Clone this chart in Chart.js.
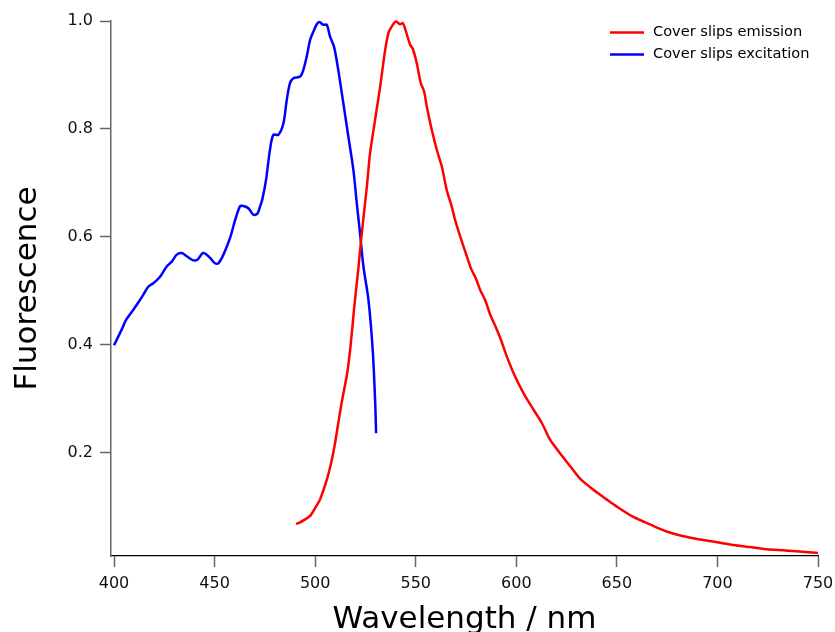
<!DOCTYPE html>
<html>
<head>
<meta charset="utf-8">
<script src="https://cdn.jsdelivr.net/npm/chart.js@4.4.1/dist/chart.umd.min.js"></script>
<style>
  html, body { margin: 0; padding: 0; background: #fff; }
  #wrap { width: 835px; height: 632px; }
</style>
</head>
<body>
<div id="wrap"><canvas id="c" width="835" height="632"></canvas></div>
<script>
// ---- Data ----
const excitationWavelength = [400.0,402.1,403.8,406.0,409.6,412.9,414.6,417.1,419.5,422.9,426.2,428.7,431.2,433.7,436.2,438.5,440.3,441.9,444.1,446.1,448.2,450.2,451.9,454.4,457.7,460.2,462.7,464.3,466.8,469.3,471.3,472.6,473.7,475.6,477.6,479.2,481.7,484.2,485.9,487.5,489.2,492.5,494.1,495.8,497.5,499.1,500.8,502.1,504.1,505.8,507.4,509.4,511.5,514.0,516.5,519.0,520.7,522.3,524.0,526.5,528.6,529.8,530.3];
const excitationValues = [0.399,0.415,0.428,0.446,0.465,0.483,0.493,0.508,0.514,0.526,0.545,0.554,0.567,0.570,0.564,0.558,0.556,0.559,0.570,0.567,0.559,0.551,0.551,0.567,0.598,0.631,0.657,0.657,0.653,0.641,0.643,0.656,0.669,0.706,0.763,0.789,0.789,0.810,0.854,0.885,0.894,0.897,0.909,0.934,0.965,0.980,0.994,0.998,0.993,0.993,0.971,0.952,0.909,0.848,0.786,0.724,0.662,0.607,0.545,0.483,0.391,0.298,0.236];

const emissionWavelength = [490.5,492.0,494.0,497.5,500.4,502.4,505.8,508.3,509.9,511.5,513.2,515.8,517.4,519.8,521.5,523.2,525.7,527.3,529.8,532.3,534.8,536.4,538.1,540.2,542.2,543.6,544.7,547.2,548.5,550.5,552.5,554.2,555.5,558.0,560.5,563.0,565.4,567.9,569.6,572.1,575.4,577.4,580.0,582.0,584.5,587.0,589.5,591.9,595.3,599.4,603.5,608.5,612.7,616.8,620.1,623.4,627.6,631.7,636.7,641.7,645.0,650.0,658.2,666.5,674.8,683.1,691.4,699.7,707.9,716.2,724.5,732.8,741.1,750.0];
const emissionValues = [0.068,0.070,0.074,0.083,0.100,0.113,0.150,0.187,0.218,0.255,0.293,0.345,0.391,0.483,0.542,0.607,0.693,0.755,0.817,0.878,0.946,0.977,0.990,0.999,0.994,0.996,0.986,0.956,0.949,0.922,0.885,0.869,0.841,0.798,0.761,0.730,0.687,0.656,0.631,0.601,0.564,0.542,0.522,0.502,0.483,0.456,0.435,0.414,0.378,0.341,0.311,0.280,0.255,0.224,0.207,0.191,0.171,0.152,0.136,0.122,0.113,0.100,0.081,0.067,0.054,0.045,0.039,0.034,0.029,0.025,0.021,0.019,0.017,0.014];

const xTickValues = [400,450,500,550,600,650,700,750];
const yTickValues = [0.2,0.4,0.6,0.8,1.0];

const seriesLabels = ['Cover slips emission','Cover slips excitation'];

const toPoints = (xs, ys) => xs.map((x, i) => ({x: x, y: ys[i]}));

const FONT = "'DejaVu Sans', 'Lucida Grande', sans-serif";

const legendPlugin = {
  id: 'lineLegend',
  afterDraw(chart) {
    const ctx = chart.ctx;
    ctx.save();
    chart.data.datasets.forEach((ds, i) => {
      const y = 32.5 + i * 22;
      ctx.strokeStyle = ds.borderColor;
      ctx.lineWidth = 2.5;
      ctx.beginPath();
      ctx.moveTo(610, y);
      ctx.lineTo(644, y);
      ctx.stroke();
      ctx.fillStyle = '#000';
      ctx.font = "14.6px " + FONT;
      ctx.textBaseline = 'middle';
      ctx.textAlign = 'left';
      ctx.fillText(ds.label, 653, y);
    });
    ctx.restore();
  }
};

new Chart(document.getElementById('c'), {
  type: 'line',
  data: {
    datasets: [
      { label: seriesLabels[0], data: toPoints(emissionWavelength, emissionValues),
        borderColor: '#ff0000', borderWidth: 2.5, pointRadius: 0, tension: 0.3, fill: false, clip: false },
      { label: seriesLabels[1], data: toPoints(excitationWavelength, excitationValues),
        borderColor: '#0000ff', borderWidth: 2.5, pointRadius: 0, tension: 0.3, fill: false, clip: false }
    ]
  },
  options: {
    responsive: false,
    animation: false,
    devicePixelRatio: 1,
    layout: { padding: { top: 21, right: 17, left: 0, bottom: 0 } },
    plugins: { legend: { display: false }, tooltip: { enabled: false } },
    scales: {
      x: {
        type: 'linear',
        min: 398.5,
        max: 750,
        afterBuildTicks: (s) => { s.ticks = xTickValues.map(v => ({value: v})); },
        afterFit: (s) => { s.height = 76; s.paddingLeft = 0; s.paddingRight = 0; },
        ticks: { color: '#111', font: { family: FONT, size: 16 }, padding: 7, maxRotation: 0, autoSkip: false,
                 callback: (v) => String(v) },
        grid: { display: true, drawOnChartArea: false, drawTicks: true, tickLength: 11, tickColor: '#666', tickWidth: 1.5 },
        border: { display: true, color: '#000', width: 1.2 },
        title: { display: true, text: 'Wavelength / nm', color: '#000',
                 font: { family: FONT, size: 31, lineHeight: 1 }, padding: { top: 0, bottom: -3 } }
      },
      y: {
        type: 'linear',
        min: 0.0085,
        max: 1.0,
        afterBuildTicks: (s) => { s.ticks = yTickValues.map(v => ({value: v})); },
        afterFit: (s) => { s.width = 111; s.paddingTop = 0; s.paddingBottom = 0; },
        ticks: { color: '#111', font: { family: FONT, size: 16 }, padding: 7, autoSkip: false,
                 callback: (v) => Number(v).toFixed(1) },
        grid: { display: true, drawOnChartArea: false, drawTicks: true, tickLength: 11, tickColor: '#666', tickWidth: 1.5 },
        border: { display: true, color: '#666', width: 1.5 },
        title: { display: true, text: 'Fluorescence', color: '#000',
                 font: { family: FONT, size: 31, lineHeight: 1 }, padding: { top: 12, bottom: 0 } }
      }
    }
  },
  plugins: [legendPlugin]
});
</script>
</body>
</html>
